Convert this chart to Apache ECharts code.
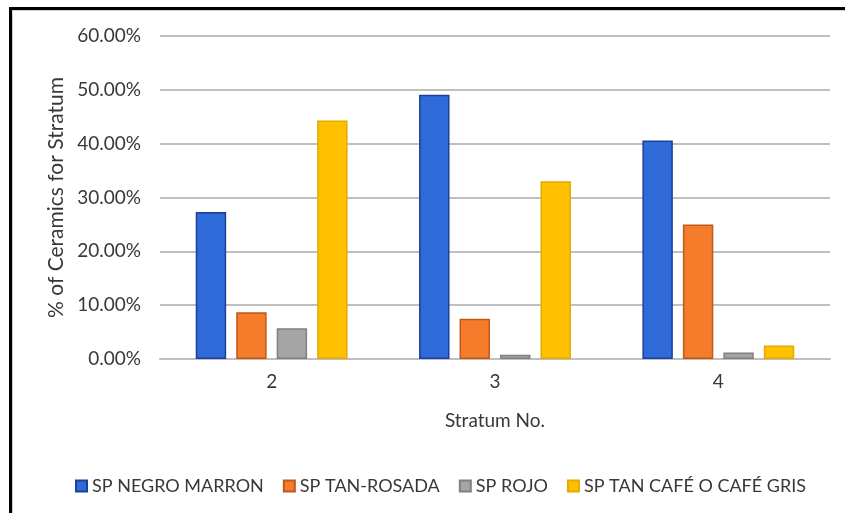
<!DOCTYPE html>
<html>
<head>
<meta charset="utf-8">
<script src="https://cdn.jsdelivr.net/npm/echarts@6/dist/echarts.min.js"></script>
<style>
  html, body { margin: 0; padding: 0; background: #fff; }
  #chart { width: 845px; height: 513px; }
</style>
</head>
<body>
<div id="chart"></div>
<script>
// Stratum categories and the share of each ceramic type (percent)
const strata = ['2', '3', '4'];
const seriesNames = ['SP NEGRO MARRON', 'SP TAN-ROSADA', 'SP ROJO', 'SP TAN CAFÉ O CAFÉ GRIS'];
const negroMarron = [27.3, 49.1, 40.6];
const tanRosada = [8.7, 7.5, 25.0];
const rojo = [5.7, 0.8, 1.2];
const tanCafeGris = [44.3, 33.0, 2.5];
const yTicks = [0, 10, 20, 30, 40, 50, 60];

const fills = ['#2E6BD9', '#F47C2B', '#A5A5A5', '#FFC000'];
const borders = ['#1B3F9A', '#C2571A', '#808080', '#E3AA00'];
const values = [negroMarron, tanRosada, rojo, tanCafeGris];
const textColor = '#383838';
const font = 'Lato, "Liberation Sans", sans-serif';

const chart = echarts.init(document.getElementById('chart'), null, { renderer: 'canvas' });

chart.setOption({
  backgroundColor: '#ffffff',
  animation: false,
  textStyle: { fontFamily: font, color: textColor },
  grid: { left: 160, right: 15, top: 36, bottom: 154, containLabel: false },
  legend: {
    left: 75,
    top: 477,
    padding: 0,
    itemWidth: 11,
    itemHeight: 11,
    itemGap: 19,
    icon: 'rect',
    textStyle: { fontFamily: font, fontSize: 18, color: textColor },
    data: seriesNames
  },
  xAxis: {
    type: 'category',
    data: strata,
    name: 'Stratum No.',
    nameLocation: 'middle',
    nameGap: 52,
    nameTextStyle: { fontFamily: font, fontSize: 19, color: textColor },
    axisLine: { show: true, lineStyle: { color: '#BFBFBF', width: 2 } },
    axisTick: { show: false },
    axisLabel: { fontFamily: font, fontSize: 19, color: textColor, margin: 13 }
  },
  yAxis: {
    type: 'value',
    min: yTicks[0],
    max: yTicks[yTicks.length - 1],
    interval: yTicks[1] - yTicks[0],
    name: '% of Ceramics for Stratum',
    nameLocation: 'middle',
    nameGap: 92,
    nameRotate: 90,
    nameTextStyle: { fontFamily: font, fontSize: 21, color: textColor },
    axisLine: { show: false },
    axisTick: { show: false },
    splitLine: { lineStyle: { color: '#BFBFBF', width: 2 } },
    axisLabel: {
      fontFamily: font, fontSize: 19, color: textColor, margin: 19,
      formatter: v => v.toFixed(2) + '%'
    }
  },
  series: seriesNames.map((name, i) => ({
    name,
    type: 'bar',
    data: values[i],
    barGap: '33%',
    barCategoryGap: '32%',
    itemStyle: { color: fills[i], borderColor: borders[i], borderWidth: 1.5 }
  })),
  graphic: [
    // frame edges along the top and left
    { type: 'rect', shape: { x: 9, y: 7, width: 836, height: 3 }, style: { fill: '#000' }, silent: true },
    { type: 'rect', shape: { x: 9, y: 7, width: 3, height: 506 }, style: { fill: '#000' }, silent: true },
    { type: 'rect', shape: { x: 12, y: 10, width: 833, height: 1 }, style: { fill: '#d0d0d0' }, silent: true },
    { type: 'rect', shape: { x: 12, y: 10, width: 1, height: 503 }, style: { fill: '#d0d0d0' }, silent: true }
  ]
});
</script>
</body>
</html>
